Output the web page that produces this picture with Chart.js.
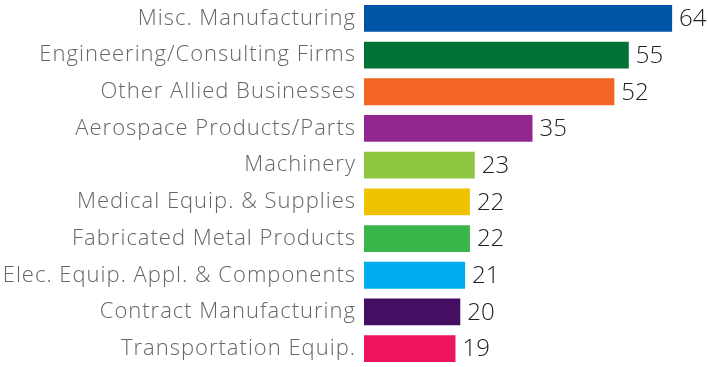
<!DOCTYPE html>
<html>
<head>
<meta charset="utf-8">
<script src="https://cdn.jsdelivr.net/npm/chart.js@4"></script>
<style>
  html, body { margin: 0; padding: 0; background: #fff; }
  #wrap { width: 708px; height: 367px; position: relative; }
</style>
</head>
<body>
<div id="wrap"><canvas id="industry-chart"></canvas></div>
<script>
// industry categories, top to bottom
const industries = [
    'Misc. Manufacturing',
    'Engineering/Consulting Firms',
    'Other Allied Businesses',
    'Aerospace Products/Parts',
    'Machinery',
    'Medical Equip. & Supplies',
    'Fabricated Metal Products',
    'Elec. Equip. Appl. & Components',
    'Contract Manufacturing',
    'Transportation Equip.'
];
const counts = [64, 55, 52, 35, 23, 22, 22, 21, 20, 19];
const barColors = [
    '#0054a6', '#007236', '#f26522', '#92278f', '#8dc63f',
    '#f0c300', '#39b54a', '#00aeef', '#440e62', '#ed145b'
];

const FONT = "'Open Sans', sans-serif";

// slightly wider tracking for the category names
const tracking = {
    id: 'tracking',
    beforeDraw(chart) {
        chart.ctx.letterSpacing = '1px';
    }
};

// value label at the end of each bar
const valueLabels = {
    id: 'valueLabels',
    afterDatasetsDraw(chart) {
        const ctx = chart.ctx;
        const meta = chart.getDatasetMeta(0);
        ctx.save();
        ctx.letterSpacing = '0px';
        ctx.font = '300 24px ' + FONT;
        ctx.fillStyle = '#222222';
        ctx.textAlign = 'left';
        ctx.textBaseline = 'middle';
        meta.data.forEach((bar, i) => {
            ctx.fillText(String(counts[i]), bar.x + 7, bar.y + 1);
        });
        ctx.restore();
    }
};

new Chart(document.getElementById('industry-chart'), {
    type: 'bar',
    data: {
        labels: industries,
        datasets: [{
            data: counts,
            backgroundColor: barColors,
            borderWidth: 0,
            categoryPercentage: 1,
            barPercentage: 0.73
        }]
    },
    options: {
        indexAxis: 'y',
        responsive: true,
        maintainAspectRatio: false,
        animation: false,
        layout: { padding: { left: 0, right: 7, top: 0, bottom: 0 } },
        plugins: {
            legend: { display: false },
            tooltip: { enabled: false }
        },
        scales: {
            x: {
                display: false,
                min: 0,
                max: 70
            },
            y: {
                grid: { display: false, drawTicks: false },
                border: { display: false },
                afterFit(scale) {
                    // fixed label column, no extra room above/below the bars
                    scale.width = 364;
                    scale.paddingTop = 0;
                    scale.paddingBottom = 0;
                },
                ticks: {
                    color: '#666666',
                    padding: 8,
                    font: { family: FONT, size: 22, weight: 300 }
                }
            }
        }
    },
    plugins: [tracking, valueLabels]
});
</script>
</body>
</html>
